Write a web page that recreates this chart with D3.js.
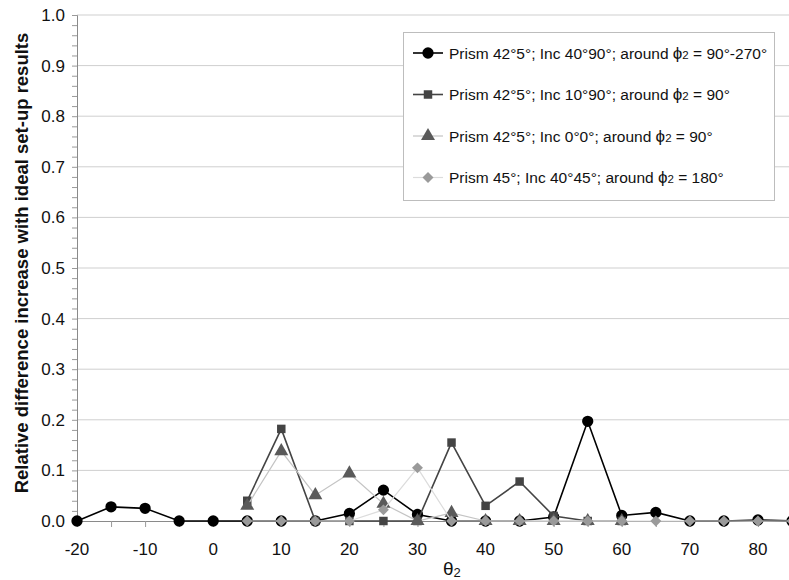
<!DOCTYPE html>
<html>
<head>
<meta charset="utf-8">
<script src="https://cdn.jsdelivr.net/npm/d3@7"></script>
<style>
  body { margin: 0; background: #fff; }
  text { font-family: "Liberation Sans", Arial, sans-serif; }
</style>
</head>
<body>
<div id="chart"></div>
<script>
// Data
const thetaAll = [-20, -15, -10, -5, 0, 5, 10, 15, 20, 25, 30, 35, 40, 45, 50, 55, 60, 65, 70, 75, 80, 85];
const circleVals = [0, 0.028, 0.025, 0, 0, 0, 0, 0, 0.015, 0.061, 0.013, 0, 0, 0, 0.008, 0.197, 0.011, 0.017, 0, 0, 0.002, 0];

const thetaSq = [5, 10, 15, 20, 25, 30, 35, 40, 45, 50, 55, 60];
const squareVals = [0.04, 0.182, 0, 0, 0, 0, 0.155, 0.03, 0.078, 0.01, 0, 0];

const thetaTri = [5, 10, 15, 20, 25, 30, 35, 40, 45, 50, 55, 60];
const triangleVals = [0.03, 0.138, 0.051, 0.094, 0.034, 0, 0.016, 0, 0, 0, 0, 0];

const thetaDia = [5, 10, 15, 20, 25, 30, 35, 40, 45, 50, 55, 60, 65, 70, 75, 80, 85];
const diamondVals = [0, 0, 0, 0, 0.022, 0.105, 0, 0, 0, 0, 0, 0, 0, 0, 0, 0, 0];

const xTicks = [-20, -10, 0, 10, 20, 30, 40, 50, 60, 70, 80];
const yTicks = [0, 0.1, 0.2, 0.3, 0.4, 0.5, 0.6, 0.7, 0.8, 0.9, 1.0];

const series = [
    { name: ["Prism 42°5°; Inc 40°90°; around ", " = 90°-270°"], xs: thetaAll, ys: circleVals, symbol: d3.symbolCircle, size: 100, rot: 0, fill: "#000", line: "#000", lw: 1.6 },
    { name: ["Prism 42°5°; Inc 10°90°; around ", " = 90°"], xs: thetaSq, ys: squareVals, symbol: d3.symbolSquare, size: 72, rot: 0, fill: "#444", line: "#444", lw: 1.6 },
    { name: ["Prism 42°5°; Inc 0°0°; around ", " = 90°"], xs: thetaTri, ys: triangleVals, symbol: d3.symbolTriangle, size: 85, rot: 0, fill: "#5a5a5a", line: "#c4c4c4", lw: 1.2 },
    { name: ["Prism 45°; Inc 40°45°; around  ", " = 180°"], xs: thetaDia, ys: diamondVals, symbol: d3.symbolSquare, size: 60, rot: 45, fill: "#9a9a9a", line: "#dcdcdc", lw: 1.2 }
];

const W = 789, H = 580;
const svg = d3.select("#chart").append("svg").attr("width", W).attr("height", H);

const x = d3.scaleLinear().domain([-20, 85]).range([77, 792]);
const y = d3.scaleLinear().domain([0, 1]).range([521, 15]);

// gridlines
svg.append("g").selectAll("line").data(yTicks.slice(1)).join("line")
    .attr("x1", 77).attr("x2", W)
    .attr("y1", d => y(d)).attr("y2", d => y(d))
    .attr("stroke", "#cfcfcf").attr("stroke-width", 1);

// y axis with minor ticks
const yAxis = svg.append("g").attr("transform", "translate(77,0)")
    .call(d3.axisLeft(y).tickValues(d3.range(0, 51).map(i => i / 50)).tickSize(5).tickFormat(""));
yAxis.select(".domain").attr("stroke", "#8a8a8a");
yAxis.selectAll(".tick line").attr("stroke", "#9a9a9a");

svg.append("g").selectAll("text").data(yTicks).join("text")
    .attr("x", 65).attr("y", d => y(d)).attr("dy", "0.35em")
    .attr("text-anchor", "end").attr("font-size", 17).attr("fill", "#111")
    .text(d => d3.format(".1f")(d));

// x axis
const xAxis = svg.append("g").attr("transform", "translate(0,521)")
    .call(d3.axisBottom(x).tickValues(d3.range(-20, 90, 5)).tickSize(6).tickFormat(""));
xAxis.select(".domain").attr("stroke", "#8a8a8a");
xAxis.selectAll(".tick line").attr("stroke", "#9a9a9a");

svg.append("g").selectAll("text").data(xTicks).join("text")
    .attr("x", d => x(d)).attr("y", 555)
    .attr("text-anchor", "middle").attr("font-size", 17).attr("fill", "#111")
    .text(d => d);

// axis titles
const xt = svg.append("text").attr("x", 443).attr("y", 575).attr("text-anchor", "start")
    .attr("font-size", 19).attr("fill", "#111");
xt.append("tspan").text("θ");
xt.append("tspan").attr("font-size", 13).attr("dy", 2).text("2");

svg.append("text")
    .attr("transform", "translate(28,263) rotate(-90)")
    .attr("text-anchor", "middle").attr("font-size", 18.5).attr("font-weight", "bold").attr("fill", "#111")
    .text("Relative difference increase with ideal set-up results");

// series lines and markers
const line = d3.line().x(d => x(d[0])).y(d => y(d[1]));
series.forEach(s => {
    const pts = s.xs.map((v, i) => [v, s.ys[i]]);
    svg.append("path").datum(pts)
        .attr("d", line).attr("fill", "none")
        .attr("stroke", s.line).attr("stroke-width", s.lw);
    svg.append("g").selectAll("path").data(pts).join("path")
        .attr("transform", d => `translate(${x(d[0])},${y(d[1])}) rotate(${s.rot})`)
        .attr("d", d3.symbol(s.symbol, s.size))
        .attr("fill", s.fill);
});

// legend
const lg = svg.append("g");
lg.append("rect").attr("x", 403.5).attr("y", 32.5).attr("width", 371).attr("height", 168)
    .attr("fill", "#fff").attr("stroke", "#bdbdbd");
series.forEach((s, i) => {
    const ly = 53 + i * 41.5;
    lg.append("line").attr("x1", 413).attr("x2", 443).attr("y1", ly).attr("y2", ly)
        .attr("stroke", s.line).attr("stroke-width", s.lw);
    lg.append("path").attr("transform", `translate(428,${ly}) rotate(${s.rot})`)
        .attr("d", d3.symbol(s.symbol, s.size)).attr("fill", s.fill);
    const t = lg.append("text").attr("x", 449).attr("y", ly).attr("dy", "0.36em")
        .attr("font-size", 15.5).attr("fill", "#111");
    t.append("tspan").text(s.name[0]);
    t.append("tspan").attr("font-size", 17).text("ϕ");
    t.append("tspan").attr("font-size", 11.5).text("2");
    t.append("tspan").text(s.name[1]);
});
</script>
</body>
</html>
